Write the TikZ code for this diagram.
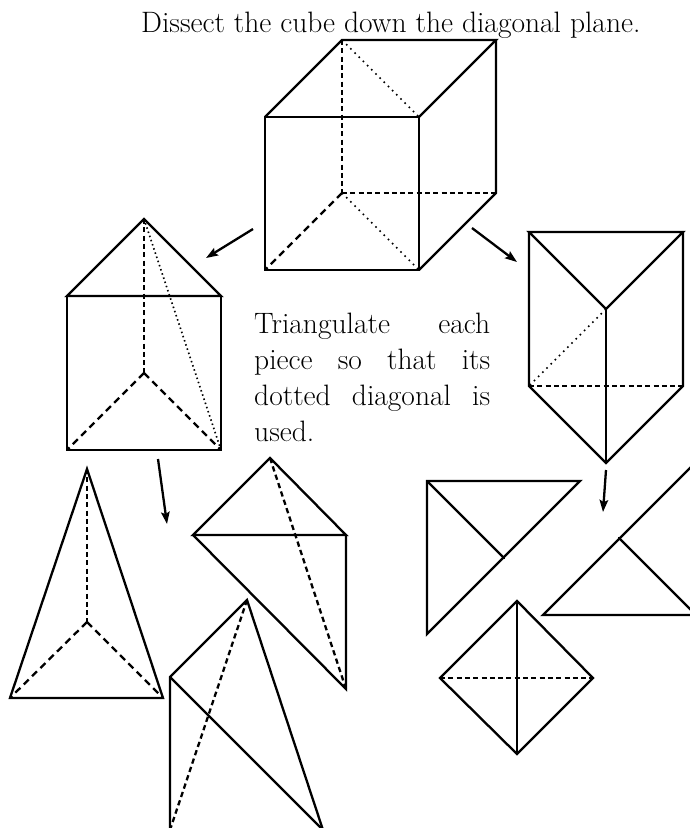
\documentclass[tikz,border=0pt]{standalone}
\usetikzlibrary{arrows.meta}
\tikzset{
 solidl/.style={line width=2.3pt,line join=miter,line cap=round},
 dashl/.style={line width=2.3pt,dash pattern=on 5pt off 3.3pt},
 dashdiag/.style={line width=2.3pt,dash pattern=on 7pt off 4.7pt},
 dashslant/.style={line width=2.3pt,dash pattern=on 5.3pt off 3.5pt},
 dotdiag/.style={line width=1.7pt,dash pattern=on 1.6pt off 4.3pt},
 dotslant/.style={line width=1.7pt,dash pattern=on 1.5pt off 2.9pt},
 arr/.style={line width=2.3pt,-{Stealth[length=12pt,width=8.5pt,inset=2pt]}},
 lbl/.style={inner sep=0pt,font=\fontsize{29.5}{36}\selectfont}
}
\begin{document}
\begin{tikzpicture}[x=1pt,y=-1pt]
\useasboundingbox (0,0) rectangle (689,828);
\node[lbl,anchor=base west] (title) at (141,32) {Dissect the cube down the diagonal plane.};
\node[lbl,anchor=north west,text width=236pt,align=left] (para) at (254,313) {\leavevmode\hbox to 236pt{Triangulate\hfill each}\\ \leavevmode\hbox to 236pt{piece\hfill so\hfill that\hfill its}\\ \leavevmode\hbox to 236pt{dotted\hfill diagonal\hfill is}\\ used.};
% cube
\draw[solidl] (265,117) rectangle (419,270);
\draw[solidl] (265,117)--(342,40)--(496,40)--(419,117);
\draw[solidl] (496,40)--(496,193)--(419,270);
\draw[dashl] (342,40)--(342,193) (342,193)--(496,193);
\draw[dashdiag] (342,193)--(265,270);
\draw[dotdiag] (342,40)--(419,117) (342,193)--(419,270);
% left prism
\draw[solidl] (67,296)--(144,219)--(221,296)--cycle;
\draw[solidl] (67,296)--(67,450)--(221,450)--(221,296);
\draw[dashl] (144,219)--(144,373);
\draw[dashdiag] (144,373)--(67,450) (144,373)--(221,450);
\draw[dotslant] (144,219)--(221,450);
% right prism
\draw[solidl] (529,232)--(683,232)--(606,309)--cycle;
\draw[solidl] (529,232)--(529,386)--(606,463)--(683,386)--(683,232);
\draw[solidl] (606,309)--(606,463);
\draw[dashl] (529,386)--(683,386);
\draw[dotdiag] (606,309)--(529,386);
% arrows
\coordinate (a1s) at (253,229); \coordinate (a1e) at (206,258);
\coordinate (a2s) at (472,228); \coordinate (a2e) at (517,262);
\coordinate (a3s) at (158,459); \coordinate (a3e) at (167,524);
\coordinate (a4s) at (606,470); \coordinate (a4e) at (603,512);
\draw[arr] (a1s)--(a1e);
\draw[arr] (a2s)--(a2e);
\draw[arr] (a3s)--(a3e);
\draw[arr] (a4s)--(a4e);
% left tetra 1
\draw[solidl] (10,698)--(87,469)--(163,698)--cycle;
\draw[dashl] (87,469)--(87,622);
\draw[dashdiag] (87,622)--(10,698) (87,622)--(163,698);
% left tetra 2
\draw[solidl] (193,535)--(270,458)--(346,535)--cycle;
\draw[solidl] (193,535)--(346,689)--(346,535);
\draw[dashslant] (270,458)--(346,689);
% left tetra 3
\draw[solidl] (170,830)--(170,677)--(247,600)--(323,830)--cycle;
\draw[solidl] (170,677)--(323,830);
\draw[dashslant] (247,600)--(170,830);
% right pieces
\draw[solidl] (427,481)--(580,481)--(427,634)--cycle;
\draw[solidl] (427,481)--(504,558);
\draw[solidl] (543,615)--(696,462)--(696,615)--cycle;
\draw[solidl] (619,538)--(696,615);
\draw[solidl] (440,678)--(517,601)--(593,678)--(517,754)--cycle;
\draw[solidl] (517,601)--(517,754);
\draw[dashl] (440,678)--(593,678);
\end{tikzpicture}
\end{document}
